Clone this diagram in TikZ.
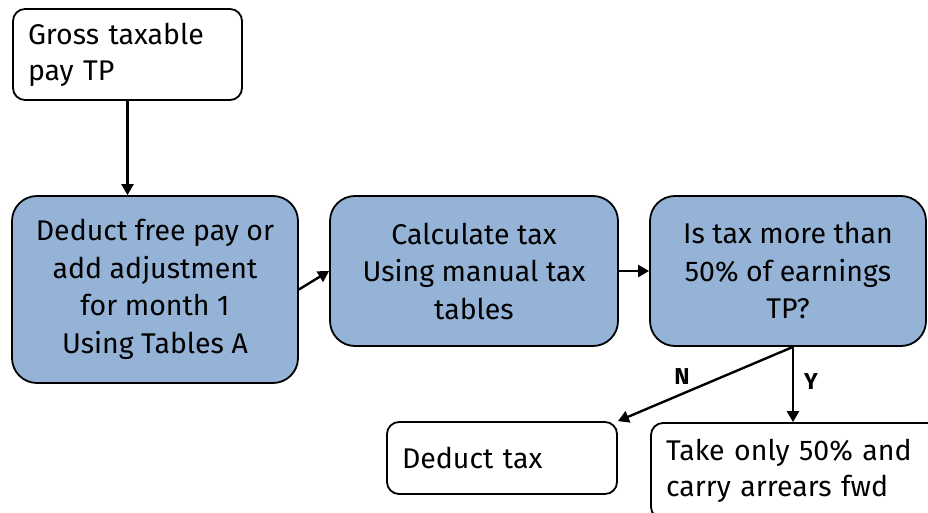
\documentclass[tikz,border=0pt]{standalone}
\usepackage{fontspec}
\setmainfont{Fira Sans}
\usepackage{tikz}
\usetikzlibrary{calc,positioning,arrows.meta,shapes}

\definecolor{boxblue}{HTML}{95B3D7}

\tikzset{
  plainbox/.style={draw=black, line width=1.8pt, fill=white, rounded corners=12pt,
    align=left, inner sep=0pt, font=\fontsize{28.5}{36}\selectfont},
  stepbox/.style={draw=black, line width=1.8pt, fill=boxblue, rounded corners=25pt,
    align=center, inner sep=0pt, font=\fontsize{28.5}{37.5}\selectfont},
  flowarrow/.style={draw=black, line width=2.4pt, -{Triangle[length=11pt,width=12pt]}},
  ynlabel/.style={font=\bfseries\fontsize{23}{25}\selectfont}
}

\begin{document}
\begin{tikzpicture}[x=1pt,y=1pt]
        \useasboundingbox (0,0) rectangle (928,512);
        \fill[white] (0,0) rectangle (928,512);

        \node[plainbox, minimum width=229pt, minimum height=91pt, text width=199pt] (gross) at (127.5,457.5) {Gross taxable\\pay TP};
        \node[stepbox, minimum width=286pt, minimum height=187pt] (deduct) at (155,222.5) {Deduct free pay or\\add adjustment\\for month 1\\Using Tables A};
        \node[stepbox, minimum width=288pt, minimum height=150pt] (calc) at (474,241) {Calculate tax\\Using manual tax\\tables};
        \node[stepbox, minimum width=276pt, minimum height=150pt] (istax) at (788,241) {Is tax more than\\50\% of earnings\\TP?};
        \node[plainbox, minimum width=230pt, minimum height=72pt, text width=200pt] (dtax) at (502,54) {Deduct tax};
        \node[plainbox, minimum width=290pt, minimum height=96pt, text width=260pt] (take) at (796,41) {Take only 50\% and\\carry arrears fwd};

        \coordinate (split) at ($(istax.south)+(5,0)$);

        \path[flowarrow] (gross.south) -- (gross.south |- deduct.north);
        \path[flowarrow] (deduct.east) -- (calc.west);
        \path[flowarrow] (calc.east) -- (istax.west);
        \path[flowarrow] (split) -- (dtax.north east);
        \path[flowarrow] (split) -- (split |- take.north);

        \node[ynlabel] (nlabel) at (682,135) {N};
        \node[ynlabel] (ylabel) at (811,130) {Y};
    \end{tikzpicture}
\end{document}
